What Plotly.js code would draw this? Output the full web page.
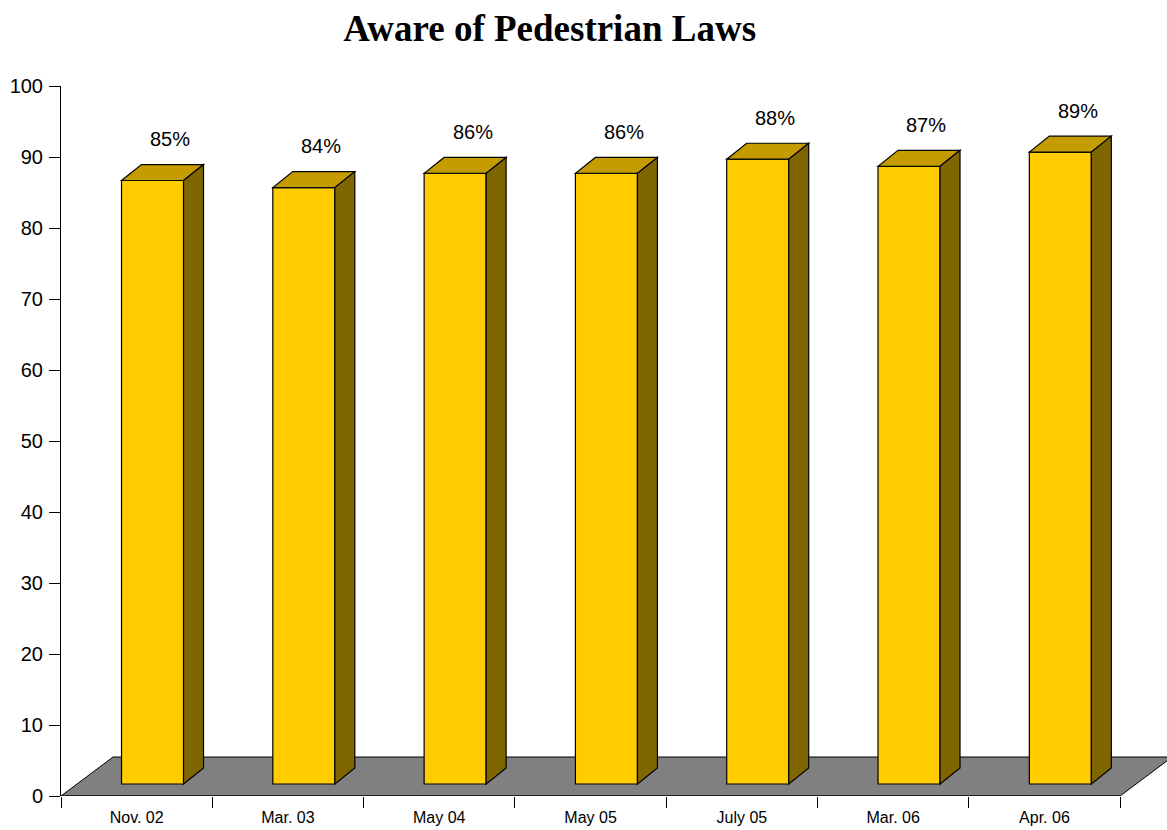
<!DOCTYPE html>
<html>
<head>
<meta charset="utf-8">
<script src="https://cdn.plot.ly/plotly-3.0.1.min.js"></script>
<style>html,body{margin:0;padding:0;background:#fff;}#chart{width:1167px;height:830px;}</style>
</head>
<body>
<div id="chart"></div>
<script>
// ---- data ----
const categories = ["Nov. 02", "Mar. 03", "May 04", "May 05", "July 05", "Mar. 06", "Apr. 06"];
const values = [85, 84, 86, 86, 88, 87, 89];
const labels = ["85%", "84%", "86%", "86%", "88%", "87%", "89%"];
const yTicks = [0, 10, 20, 30, 40, 50, 60, 70, 80, 90, 100];

// ---- 3D styling constants (data units) ----
const BASE = 1.69;         // bar plane zero, set back from floor front edge
const BAR_OFFSET = -0.1;   // front face left edge relative to category centre
const BAR_WIDTH = 0.41;
const DEPTH_X = 0.132;     // bar depth horizontal projection
const DEPTH_Y = 2.25;      // bar depth vertical projection
const FLOOR_DX = 0.344;
const FLOOR_DY = 5.49;
const LABEL_GAP = 3.6;

const FRONT = "#FFCC00", TOP = "#C49C00", SIDE = "#806600", FLOOR = "#808080";

const shapes = [];
const n = categories.length;
// floor
shapes.push({
  type: "path", xref: "x", yref: "y", layer: "below",
  path: `M ${-0.5} 0 L ${n - 0.5} 0 L ${n - 0.5 + FLOOR_DX} ${FLOOR_DY} L ${-0.5 + FLOOR_DX} ${FLOOR_DY} Z`,
  fillcolor: FLOOR, line: {color: "#000", width: 1}
});
// front axis line
shapes.push({
  type: "line", xref: "x", yref: "y", x0: -0.5, x1: n - 0.5, y0: 0, y1: 0,
  line: {color: "#000", width: 1}
});

const annotations = [];
values.forEach((v, i) => {
  const x0 = i + BAR_OFFSET, x1 = x0 + BAR_WIDTH, t = BASE + v;
  // top face
  shapes.push({
    type: "path", xref: "x", yref: "y", layer: "above",
    path: `M ${x0} ${t} L ${x1} ${t} L ${x1 + DEPTH_X} ${t + DEPTH_Y} L ${x0 + DEPTH_X} ${t + DEPTH_Y} Z`,
    fillcolor: TOP, line: {color: "#000", width: 1.2}
  });
  // side face
  shapes.push({
    type: "path", xref: "x", yref: "y", layer: "above",
    path: `M ${x1} ${BASE} L ${x1} ${t} L ${x1 + DEPTH_X} ${t + DEPTH_Y} L ${x1 + DEPTH_X} ${BASE + DEPTH_Y} Z`,
    fillcolor: SIDE, line: {color: "#000", width: 1.2}
  });
  annotations.push({
    xref: "x", yref: "y", x: i + 0.22, y: t + DEPTH_Y + LABEL_GAP,
    text: labels[i], showarrow: false, xanchor: "center", yanchor: "middle",
    font: {family: "Liberation Sans, Arial, sans-serif", size: 20, color: "#000"}
  });
});

const trace = {
  type: "bar",
  x: categories,
  y: values,
  base: BASE,
  width: BAR_WIDTH,
  offset: BAR_OFFSET,
  marker: {color: FRONT, line: {color: "#000", width: 1.2}},
  hoverinfo: "x+y"
};

const layout = {
  width: 1167, height: 830,
  margin: {l: 61, r: 0, t: 86, b: 34},
  paper_bgcolor: "#fff", plot_bgcolor: "rgba(0,0,0,0)",
  showlegend: false,
  title: {
    text: "<b>Aware of Pedestrian Laws</b>",
    font: {family: "Liberation Serif, Times New Roman, serif", size: 37, color: "#000"},
    xref: "container", x: 0.471, xanchor: "center",
    yref: "container", y: 0.966, yanchor: "middle"
  },
  xaxis: {
    type: "category", categoryorder: "array", categoryarray: categories,
    range: [-0.5, n - 0.5 + 0.31],
    showline: false, showgrid: false, zeroline: false,
    ticks: "outside", tickson: "boundaries", ticklen: 11, tickcolor: "#000", tickwidth: 1,
    ticklabelstandoff: 10,
    tickfont: {family: "Liberation Sans, Arial, sans-serif", size: 16, color: "#000"},
    fixedrange: true
  },
  yaxis: {
    range: [0, 100], tickvals: yTicks,
    showline: true, linecolor: "#000", linewidth: 1,
    showgrid: false, zeroline: false,
    ticks: "outside", ticklen: 11, tickcolor: "#000", tickwidth: 1,
    ticklabelstandoff: 2,
    tickfont: {family: "Liberation Sans, Arial, sans-serif", size: 20, color: "#000"},
    fixedrange: true
  },
  shapes: shapes,
  annotations: annotations
};

Plotly.newPlot("chart", [trace], layout, {displayModeBar: false, staticPlot: true});
</script>
</body>
</html>
